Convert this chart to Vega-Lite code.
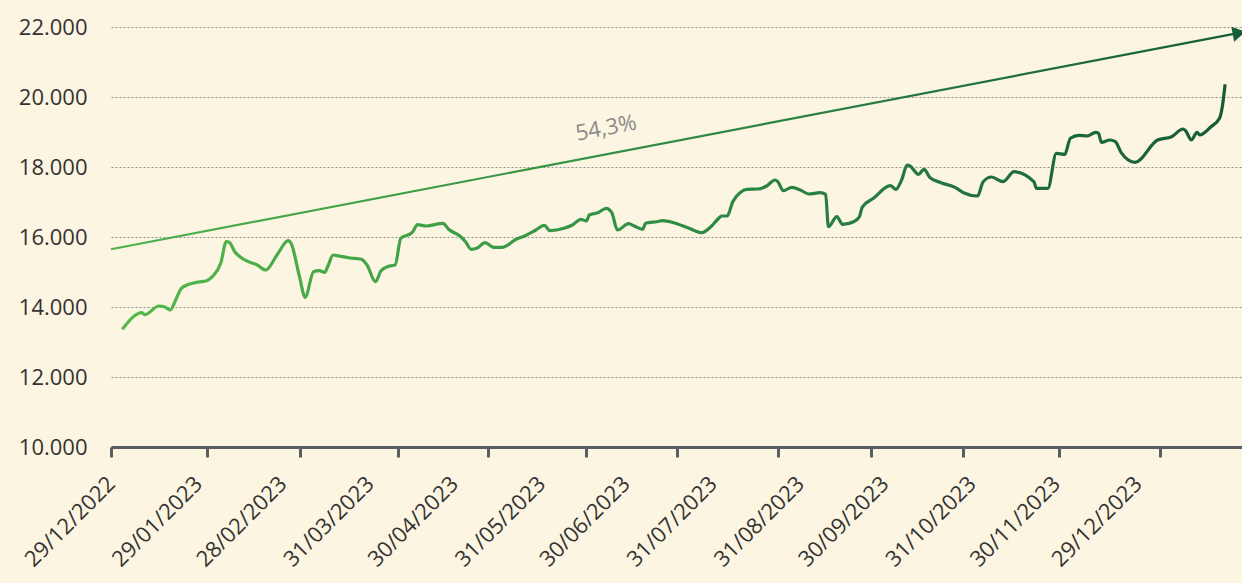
{
  "$schema": "https://vega.github.io/schema/vega-lite/v6.json",
  "width": 1131,
  "height": 420,
  "autosize": {"type": "none"},
  "padding": {"left": 111, "top": 27, "right": 0, "bottom": 136},
  "background": "#fcf5e1",
  "config": {"view": {"stroke": null}, "font": "Open Sans"},
  "datasets": {
    "series": [
      {"date": "2023-01-02", "value": 13363},
      {"date": "2023-01-09", "value": 13837},
      {"date": "2023-01-10", "value": 13780},
      {"date": "2023-01-15", "value": 14029},
      {"date": "2023-01-17", "value": 14009},
      {"date": "2023-01-19", "value": 13914},
      {"date": "2023-01-21", "value": 14200},
      {"date": "2023-01-23", "value": 14534},
      {"date": "2023-01-26", "value": 14657},
      {"date": "2023-01-29", "value": 14714},
      {"date": "2023-02-01", "value": 14751},
      {"date": "2023-02-03", "value": 14866},
      {"date": "2023-02-06", "value": 15249},
      {"date": "2023-02-08", "value": 15866},
      {"date": "2023-02-09", "value": 15850},
      {"date": "2023-02-11", "value": 15580},
      {"date": "2023-02-14", "value": 15371},
      {"date": "2023-02-19", "value": 15200},
      {"date": "2023-02-22", "value": 15057},
      {"date": "2023-02-26", "value": 15486},
      {"date": "2023-03-02", "value": 15894},
      {"date": "2023-03-03", "value": 15820},
      {"date": "2023-03-06", "value": 14866},
      {"date": "2023-03-08", "value": 14277},
      {"date": "2023-03-11", "value": 15009},
      {"date": "2023-03-13", "value": 15037},
      {"date": "2023-03-15", "value": 14990},
      {"date": "2023-03-16", "value": 15151},
      {"date": "2023-03-18", "value": 15486},
      {"date": "2023-03-20", "value": 15457},
      {"date": "2023-03-24", "value": 15400},
      {"date": "2023-03-28", "value": 15363},
      {"date": "2023-03-30", "value": 15200},
      {"date": "2023-04-02", "value": 14723},
      {"date": "2023-04-04", "value": 15037},
      {"date": "2023-04-07", "value": 15171},
      {"date": "2023-04-09", "value": 15200},
      {"date": "2023-04-11", "value": 15963},
      {"date": "2023-04-15", "value": 16123},
      {"date": "2023-04-17", "value": 16351},
      {"date": "2023-04-20", "value": 16314},
      {"date": "2023-04-26", "value": 16391},
      {"date": "2023-04-28", "value": 16220},
      {"date": "2023-05-02", "value": 16029},
      {"date": "2023-05-04", "value": 15866},
      {"date": "2023-05-06", "value": 15649},
      {"date": "2023-05-08", "value": 15677},
      {"date": "2023-05-11", "value": 15837},
      {"date": "2023-05-14", "value": 15706},
      {"date": "2023-05-17", "value": 15706},
      {"date": "2023-05-22", "value": 15934},
      {"date": "2023-05-25", "value": 16029},
      {"date": "2023-05-29", "value": 16200},
      {"date": "2023-06-01", "value": 16334},
      {"date": "2023-06-03", "value": 16180},
      {"date": "2023-06-08", "value": 16249},
      {"date": "2023-06-11", "value": 16343},
      {"date": "2023-06-14", "value": 16506},
      {"date": "2023-06-16", "value": 16457},
      {"date": "2023-06-17", "value": 16629},
      {"date": "2023-06-20", "value": 16694},
      {"date": "2023-06-23", "value": 16820},
      {"date": "2023-06-25", "value": 16694},
      {"date": "2023-06-27", "value": 16200},
      {"date": "2023-07-01", "value": 16380},
      {"date": "2023-07-03", "value": 16314},
      {"date": "2023-07-06", "value": 16220},
      {"date": "2023-07-07", "value": 16391},
      {"date": "2023-07-11", "value": 16437},
      {"date": "2023-07-13", "value": 16466},
      {"date": "2023-07-17", "value": 16409},
      {"date": "2023-07-22", "value": 16266},
      {"date": "2023-07-27", "value": 16123},
      {"date": "2023-07-30", "value": 16277},
      {"date": "2023-08-02", "value": 16534},
      {"date": "2023-08-03", "value": 16600},
      {"date": "2023-08-05", "value": 16600},
      {"date": "2023-08-07", "value": 17009},
      {"date": "2023-08-10", "value": 17294},
      {"date": "2023-08-12", "value": 17363},
      {"date": "2023-08-16", "value": 17371},
      {"date": "2023-08-19", "value": 17457},
      {"date": "2023-08-22", "value": 17629},
      {"date": "2023-08-23", "value": 17580},
      {"date": "2023-08-25", "value": 17323},
      {"date": "2023-08-28", "value": 17420},
      {"date": "2023-08-31", "value": 17343},
      {"date": "2023-09-03", "value": 17229},
      {"date": "2023-09-07", "value": 17266},
      {"date": "2023-09-09", "value": 17220},
      {"date": "2023-09-10", "value": 16294},
      {"date": "2023-09-13", "value": 16580},
      {"date": "2023-09-15", "value": 16363},
      {"date": "2023-09-19", "value": 16437},
      {"date": "2023-09-21", "value": 16580},
      {"date": "2023-09-22", "value": 16849},
      {"date": "2023-09-26", "value": 17106},
      {"date": "2023-10-02", "value": 17466},
      {"date": "2023-10-04", "value": 17363},
      {"date": "2023-10-06", "value": 17629},
      {"date": "2023-10-08", "value": 18057},
      {"date": "2023-10-09", "value": 18030},
      {"date": "2023-10-12", "value": 17791},
      {"date": "2023-10-14", "value": 17934},
      {"date": "2023-10-16", "value": 17706},
      {"date": "2023-10-20", "value": 17551},
      {"date": "2023-10-25", "value": 17420},
      {"date": "2023-10-28", "value": 17266},
      {"date": "2023-11-02", "value": 17171},
      {"date": "2023-11-04", "value": 17580},
      {"date": "2023-11-07", "value": 17714},
      {"date": "2023-11-11", "value": 17580},
      {"date": "2023-11-15", "value": 17866},
      {"date": "2023-11-22", "value": 17580},
      {"date": "2023-11-23", "value": 17391},
      {"date": "2023-11-27", "value": 17391},
      {"date": "2023-11-30", "value": 18391},
      {"date": "2023-12-03", "value": 18363},
      {"date": "2023-12-05", "value": 18820},
      {"date": "2023-12-08", "value": 18906},
      {"date": "2023-12-11", "value": 18886},
      {"date": "2023-12-14", "value": 18991},
      {"date": "2023-12-15", "value": 18963},
      {"date": "2023-12-16", "value": 18706},
      {"date": "2023-12-19", "value": 18771},
      {"date": "2023-12-21", "value": 18723},
      {"date": "2023-12-23", "value": 18420},
      {"date": "2023-12-28", "value": 18134},
      {"date": "2024-01-05", "value": 18771},
      {"date": "2024-01-10", "value": 18866},
      {"date": "2024-01-14", "value": 19086},
      {"date": "2024-01-15", "value": 19029},
      {"date": "2024-01-17", "value": 18771},
      {"date": "2024-01-19", "value": 18991},
      {"date": "2024-01-20", "value": 18914},
      {"date": "2024-01-24", "value": 19151},
      {"date": "2024-01-27", "value": 19391},
      {"date": "2024-01-28", "value": 19723},
      {"date": "2024-01-29", "value": 20363}
    ],
    "trend": [
      {"date": "2022-12-29", "value": 15650},
      {"date": "2024-02-03", "value": 21830}
    ],
    "arrow": [
      {"date": "2024-02-03", "value": 21830}
    ],
    "note": [
      {"date": "2023-06-23", "value": 19114, "label": "54,3%"}
    ]
  },
  "resolve": {"scale": {"x": "independent"}, "axis": {"x": "independent"}},
  "layer": [
    {
      "data": {"name": "series"},
      "mark": {
        "type": "line",
        "interpolate": "monotone",
        "strokeWidth": 3.2,
        "color": {
          "gradient": "linear", "x1": 0, "y1": 0, "x2": 1, "y2": 0,
          "stops": [
            {"offset": 0, "color": "#55b84a"},
            {"offset": 0.5, "color": "#2f8c45"},
            {"offset": 1, "color": "#145c36"}
          ]
        }
      },
      "encoding": {
        "x": {
          "field": "date", "type": "temporal",
          "scale": {"type": "utc", "nice": false, "domain": [{"year": 2022, "month": 12, "date": 29, "utc": true}, {"year": 2024, "month": 2, "date": 4, "utc": true}]},
          "axis": {
            "orient": "bottom", "title": null, "grid": false,
            "labels": false, "ticks": true, "tickSize": 10, "tickWidth": 3, "tickColor": "#5b5e60",
            "domain": true, "domainWidth": 3, "domainColor": "#5b5e60",
            "values": [
              {"year": 2022, "month": 12, "date": 29, "utc": true},
              {"year": 2023, "month": 2, "date": 1, "utc": true},
              {"year": 2023, "month": 3, "date": 6, "utc": true},
              {"year": 2023, "month": 4, "date": 10, "utc": true},
              {"year": 2023, "month": 5, "date": 12, "utc": true},
              {"year": 2023, "month": 6, "date": 16, "utc": true},
              {"year": 2023, "month": 7, "date": 18, "utc": true},
              {"year": 2023, "month": 8, "date": 23, "utc": true},
              {"year": 2023, "month": 9, "date": 25, "utc": true},
              {"year": 2023, "month": 10, "date": 28, "utc": true},
              {"year": 2023, "month": 12, "date": 1, "utc": true},
              {"year": 2024, "month": 1, "date": 6, "utc": true}
            ]
          }
        },
        "y": {
          "field": "value", "type": "quantitative",
          "scale": {"domain": [10000, 22000], "nice": false, "zero": false},
          "axis": {
            "title": null, "domain": false, "ticks": false,
            "values": [10000, 12000, 14000, 16000, 18000, 20000, 22000],
            "grid": true, "gridColor": "#8f8f8f", "gridDash": [2, 2], "gridWidth": 1,
            "labelFontSize": 22, "labelColor": "#333333", "labelPadding": 24,
            "labelExpr": "replace(format(datum.value, ',.0f'), ',', '.')"
          }
        }
      }
    },
    {
      "data": {"name": "trend"},
      "mark": {
        "type": "line",
        "strokeWidth": 2.2,
        "color": {
          "gradient": "linear", "x1": 0, "y1": 0, "x2": 1, "y2": 0,
          "stops": [
            {"offset": 0, "color": "#4fb34a"},
            {"offset": 0.5, "color": "#2e8a44"},
            {"offset": 1, "color": "#155e37"}
          ]
        }
      },
      "encoding": {
        "x": {
          "field": "date", "type": "temporal",
          "scale": {"type": "utc", "nice": false, "domain": [{"year": 2022, "month": 12, "date": 29, "utc": true}, {"year": 2024, "month": 2, "date": 4, "utc": true}]},
          "axis": {
            "orient": "bottom", "title": null, "grid": false, "domain": false, "ticks": false, "tickSize": 0,
            "labelAngle": 315, "labelAlign": "right", "labelBaseline": "middle",
            "labelFontSize": 22, "labelColor": "#333333", "labelPadding": 33,
            "labelOverlap": false,
            "labelExpr": "utcFormat(datum.value, '%d/%m/%Y')",
            "values": [
              {"year": 2022, "month": 12, "date": 29, "utc": true},
              {"year": 2023, "month": 1, "date": 29, "utc": true},
              {"year": 2023, "month": 2, "date": 28, "utc": true},
              {"year": 2023, "month": 3, "date": 31, "utc": true},
              {"year": 2023, "month": 4, "date": 30, "utc": true},
              {"year": 2023, "month": 5, "date": 31, "utc": true},
              {"year": 2023, "month": 6, "date": 30, "utc": true},
              {"year": 2023, "month": 7, "date": 31, "utc": true},
              {"year": 2023, "month": 8, "date": 31, "utc": true},
              {"year": 2023, "month": 9, "date": 30, "utc": true},
              {"year": 2023, "month": 10, "date": 31, "utc": true},
              {"year": 2023, "month": 11, "date": 30, "utc": true},
              {"year": 2023, "month": 12, "date": 29, "utc": true}
            ]
          }
        },
        "y": {"field": "value", "type": "quantitative"}
      }
    },
    {
      "data": {"name": "arrow"},
      "mark": {"type": "point", "shape": "triangle-right", "filled": true, "opacity": 1, "size": 230, "angle": 349.2, "color": "#155e37"},
      "encoding": {
        "x": {
          "field": "date", "type": "temporal", "axis": null,
          "scale": {"type": "utc", "nice": false, "domain": [{"year": 2022, "month": 12, "date": 29, "utc": true}, {"year": 2024, "month": 2, "date": 4, "utc": true}]}
        },
        "y": {"field": "value", "type": "quantitative"}
      }
    },
    {
      "data": {"name": "note"},
      "mark": {"type": "text", "angle": 349.2, "fontSize": 22, "color": "#8a8a8a", "align": "center", "baseline": "middle"},
      "encoding": {
        "x": {
          "field": "date", "type": "temporal", "axis": null,
          "scale": {"type": "utc", "nice": false, "domain": [{"year": 2022, "month": 12, "date": 29, "utc": true}, {"year": 2024, "month": 2, "date": 4, "utc": true}]}
        },
        "y": {"field": "value", "type": "quantitative"},
        "text": {"field": "label"}
      }
    }
  ]
}
